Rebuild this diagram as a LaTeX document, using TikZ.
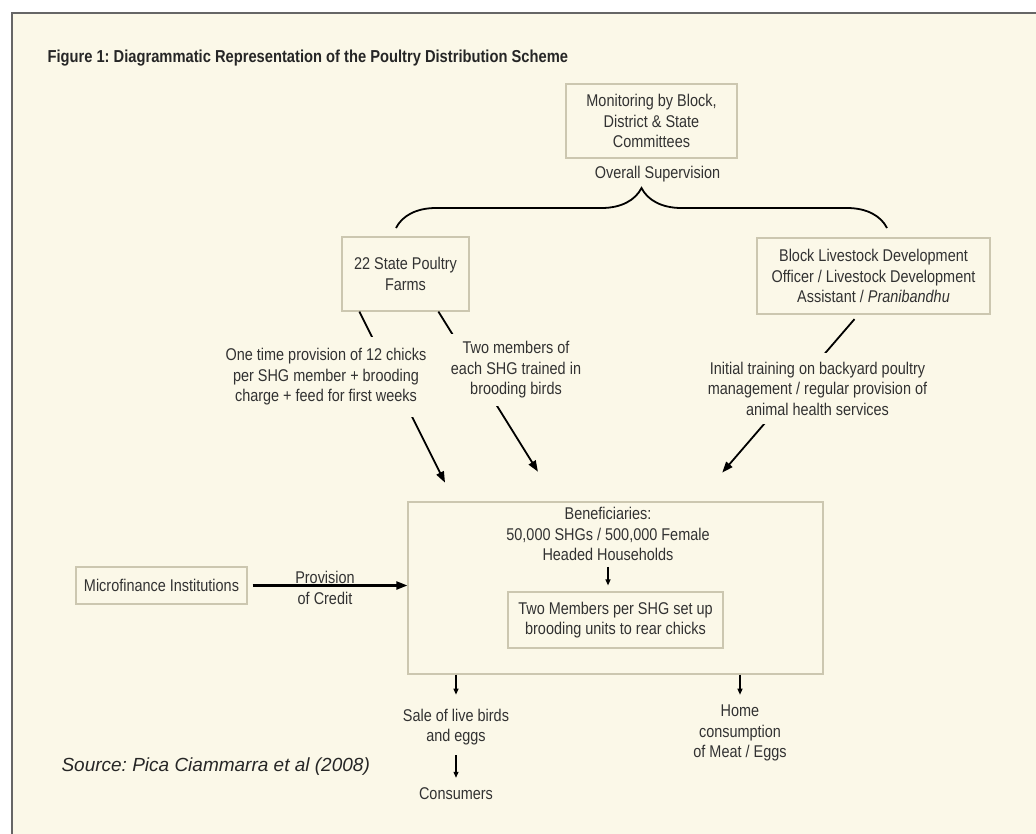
\documentclass[tikz,border=0pt]{standalone}
\usepackage{fontspec}
\setmainfont{Liberation Sans}
\newfontfamily\narrow[FakeStretch=0.85]{Liberation Sans}
\usetikzlibrary{arrows.meta,decorations.pathreplacing}
\definecolor{paper}{RGB}{251,248,232}
\definecolor{boxline}{RGB}{204,199,176}
\definecolor{ink}{RGB}{50,50,50}
\def\txt{\narrow\fontsize{17}{20.5}\selectfont}
\frenchspacing

\begin{document}
\begin{tikzpicture}[x=1pt,y=1pt,
  box/.style={draw=boxline,line width=1.2pt,text=ink,font=\txt,align=center,inner sep=0pt},
  lbl/.style={text=ink,font=\txt,align=center,fill=paper,inner sep=10pt},
  plain/.style={text=ink,font=\txt,align=center,inner sep=2pt},
  arr/.style={-{Triangle[length=11pt,width=8pt]},line width=1.8pt},
  sarr/.style={-{Triangle[length=6pt,width=5pt]},line width=1.2pt}]
\useasboundingbox (0,0) rectangle (1036,-833);
\clip (0,0) rectangle (1036,-833);
\fill[white] (0,0) rectangle (1036,-833);
\draw[fill=paper,draw=black!60,line width=1.5pt] (12,-13) rectangle (1060,-860);
\node[anchor=west,text=black!85,font=\narrow\bfseries\fontsize{17.3}{20}\selectfont] (title) at (44,-58)
  {Figure 1: Diagrammatic Representation of the Poultry Distribution Scheme};

% boxes
\node[box,minimum width=171pt,minimum height=74pt] (mon) at (651.5,-121)
  {Monitoring by Block,\\District \& State\\Committees};
\node[plain] (sup) at (657.5,-174) {Overall Supervision};
\node[box,minimum width=127pt,minimum height=74pt] (farm) at (405.5,-274)
  {22 State Poultry\\Farms};
\node[box,minimum width=233pt,minimum height=76pt] (blo) at (873.5,-276)
  {Block Livestock Development\\Officer / Livestock Development\\Assistant / \textit{Pranibandhu}};
\node[box,minimum width=171pt,minimum height=37pt] (mfi) at (161.5,-585.5)
  {Microfinance Institutions};
\node[box,minimum width=415pt,minimum height=172pt] (ben) at (615.5,-588) {};
\node[plain,inner sep=0pt] (bentext) at (608,-534)
  {Beneficiaries:\\50,000 SHGs / 500,000 Female\\Headed Households};
\node[box,minimum width=215pt,minimum height=56pt] (inner) at (615.5,-620)
  {Two Members per SHG set up\\brooding units to rear chicks};

% supervision brace
\coordinate (bl) at (396,-228);
\coordinate (br) at (887,-228);
\draw[decorate,decoration={brace,amplitude=40pt},line width=1.8pt] (bl) -- (br);

% flows into the beneficiaries
\draw[arr,shorten >=21pt] ([xshift=18pt]farm.south west) -- ([xshift=47pt]ben.north west);
\draw[arr,shorten >=35pt] ([xshift=97pt]farm.south west) -- ([xshift=149pt]ben.north west);
\draw[arr,shorten <=6pt,shorten >=38pt] ([xshift=102pt]blo.south west) -- ([xshift=290pt]ben.north west);
\node[lbl,inner sep=12pt] (onetime) at (326,-377)
  {One time provision of 12 chicks\\per SHG member + brooding\\charge + feed for first weeks};
\node[lbl,inner sep=8pt] (twomem) at (516,-370)
  {Two members of\\each SHG trained in\\brooding birds};
\node[lbl,inner sep=9pt] (initial) at (817.5,-388.5)
  {Initial training on backyard poultry\\management / regular provision of\\animal health services};

\draw[arr,line width=2.2pt,shorten <=5pt] (mfi.east) -- (mfi.east -| ben.west);
\node[plain] (credit) at (325,-588) {Provision\\of Credit};

\draw[sarr,shorten <=6pt,shorten >=6pt] (bentext.south) -- (bentext.south |- inner.north);

% outputs
\node[plain] (sale) at (456,-727) {Sale of live birds\\and eggs};
\node[plain] (cons) at (456,-794) {Consumers};
\node[plain] (home) at (740,-733) {Home\\consumption\\of Meat / Eggs};
\draw[sarr,shorten >=12pt] (sale.north |- ben.south) -- (sale.north);
\draw[sarr,shorten <=8pt,shorten >=8pt] (sale.south) -- (sale.south |- cons.north);
\draw[sarr,shorten >=8pt] (home.north |- ben.south) -- (home.north);

\node[anchor=west,text=black!85,font=\itshape\fontsize{19}{22}\selectfont] (src) at (58,-767)
  {Source: Pica Ciammarra et al (2008)};
\end{tikzpicture}
\end{document}
